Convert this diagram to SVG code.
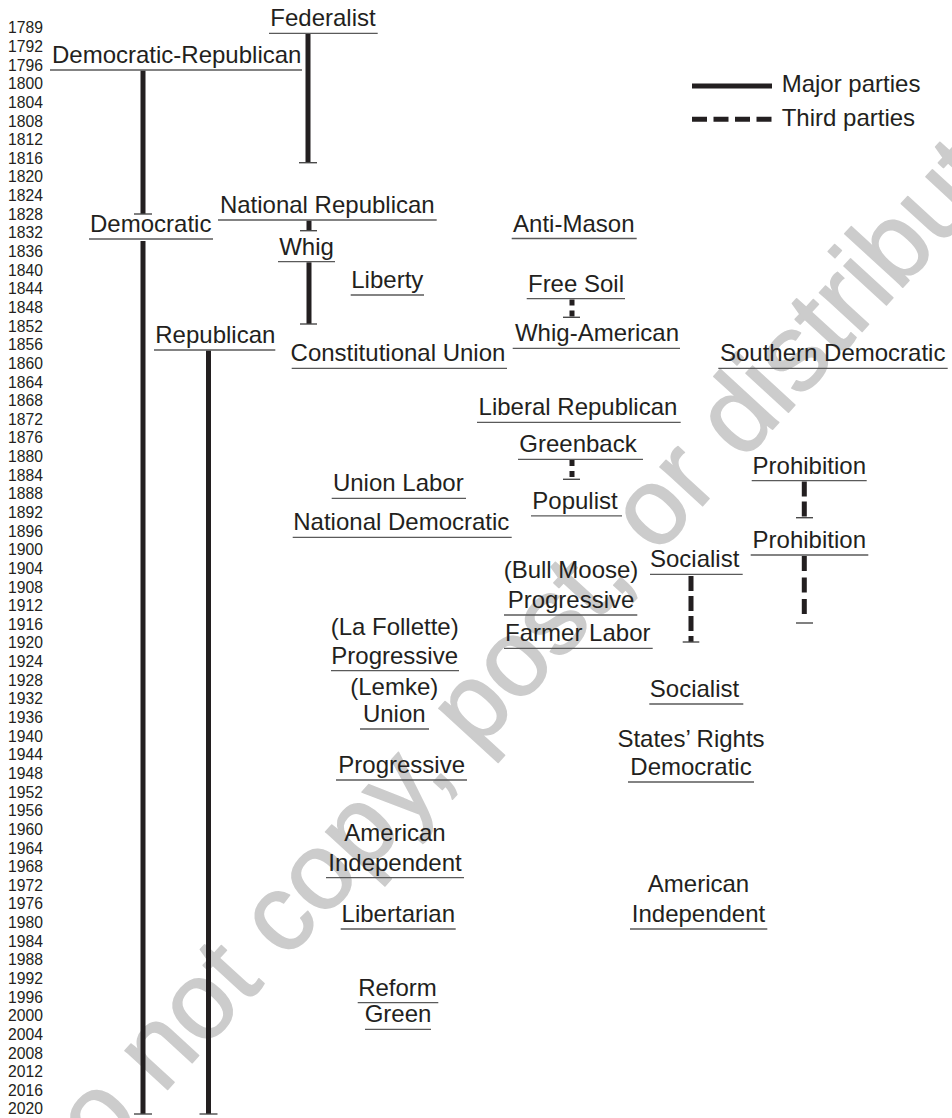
<svg xmlns="http://www.w3.org/2000/svg" width="952" height="1118" viewBox="0 0 952 1118">
<style>
text{font-family:"Liberation Sans",Arial,sans-serif;fill:#231f20}
.yr{font-size:15.7px}
.lb{font-size:24px;text-anchor:middle}
.lg{font-size:24px}
.ul{stroke:#5a5a5a;stroke-width:1.3}
.tk{stroke:#4a4a4a;stroke-width:1.4}
.maj{stroke:#231f20;stroke-width:5}
.thd{stroke:#231f20;stroke-width:5;stroke-dasharray:15 5}
.wm{font-size:109px;fill:#cccccc;stroke:#cccccc;stroke-width:1.5;stroke-linejoin:round}
</style>
<rect width="952" height="1118" fill="#fff"/>
<text class="wm" transform="translate(48,1220) rotate(-47.5)" x="0" y="0">Do not copy, post, or distribute</text>
<g id="years">
<text class="yr" x="8" y="33.3">1789</text>
<text class="yr" x="8" y="51.9">1792</text>
<text class="yr" x="8" y="70.6">1796</text>
<text class="yr" x="8" y="89.2">1800</text>
<text class="yr" x="8" y="107.9">1804</text>
<text class="yr" x="8" y="126.5">1808</text>
<text class="yr" x="8" y="145.1">1812</text>
<text class="yr" x="8" y="163.8">1816</text>
<text class="yr" x="8" y="182.4">1820</text>
<text class="yr" x="8" y="201.1">1824</text>
<text class="yr" x="8" y="219.7">1828</text>
<text class="yr" x="8" y="238.3">1832</text>
<text class="yr" x="8" y="257.0">1836</text>
<text class="yr" x="8" y="275.6">1840</text>
<text class="yr" x="8" y="294.3">1844</text>
<text class="yr" x="8" y="312.9">1848</text>
<text class="yr" x="8" y="331.5">1852</text>
<text class="yr" x="8" y="350.2">1856</text>
<text class="yr" x="8" y="368.8">1860</text>
<text class="yr" x="8" y="387.5">1864</text>
<text class="yr" x="8" y="406.1">1868</text>
<text class="yr" x="8" y="424.7">1872</text>
<text class="yr" x="8" y="443.4">1876</text>
<text class="yr" x="8" y="462.0">1880</text>
<text class="yr" x="8" y="480.7">1884</text>
<text class="yr" x="8" y="499.3">1888</text>
<text class="yr" x="8" y="517.9">1892</text>
<text class="yr" x="8" y="536.6">1896</text>
<text class="yr" x="8" y="555.2">1900</text>
<text class="yr" x="8" y="573.9">1904</text>
<text class="yr" x="8" y="592.5">1908</text>
<text class="yr" x="8" y="611.1">1912</text>
<text class="yr" x="8" y="629.8">1916</text>
<text class="yr" x="8" y="648.4">1920</text>
<text class="yr" x="8" y="667.1">1924</text>
<text class="yr" x="8" y="685.7">1928</text>
<text class="yr" x="8" y="704.3">1932</text>
<text class="yr" x="8" y="723.0">1936</text>
<text class="yr" x="8" y="741.6">1940</text>
<text class="yr" x="8" y="760.3">1944</text>
<text class="yr" x="8" y="778.9">1948</text>
<text class="yr" x="8" y="797.5">1952</text>
<text class="yr" x="8" y="816.2">1956</text>
<text class="yr" x="8" y="834.8">1960</text>
<text class="yr" x="8" y="853.5">1964</text>
<text class="yr" x="8" y="872.1">1968</text>
<text class="yr" x="8" y="890.7">1972</text>
<text class="yr" x="8" y="909.4">1976</text>
<text class="yr" x="8" y="928.0">1980</text>
<text class="yr" x="8" y="946.7">1984</text>
<text class="yr" x="8" y="965.3">1988</text>
<text class="yr" x="8" y="983.9">1992</text>
<text class="yr" x="8" y="1002.6">1996</text>
<text class="yr" x="8" y="1021.2">2000</text>
<text class="yr" x="8" y="1039.9">2004</text>
<text class="yr" x="8" y="1058.5">2008</text>
<text class="yr" x="8" y="1077.1">2012</text>
<text class="yr" x="8" y="1095.8">2016</text>
<text class="yr" x="8" y="1114.4">2020</text>
</g>
<g id="connectors">
<line class="maj" x1="308" y1="34" x2="308" y2="162.7"/><line class="tk" x1="299" y1="162.7" x2="317" y2="162.7"/>
<line class="maj" x1="143" y1="70.5" x2="143" y2="214"/><line class="tk" x1="134" y1="214" x2="152" y2="214"/>
<line class="maj" x1="143" y1="241" x2="143" y2="1114"/><line class="tk" x1="134" y1="1114" x2="152" y2="1114"/>
<line class="maj" x1="309" y1="220.5" x2="309" y2="230.7"/><line class="tk" x1="300" y1="230.7" x2="317" y2="230.7"/>
<line class="maj" x1="309" y1="262.3" x2="309" y2="324"/><line class="tk" x1="300" y1="324" x2="317" y2="324"/>
<line class="maj" x1="208.5" y1="350.5" x2="208.5" y2="1114"/><line class="tk" x1="199.5" y1="1114" x2="217.5" y2="1114"/>
<line class="thd" style="stroke-dasharray:6 5" x1="572" y1="299.5" x2="572" y2="317.3"/><line class="tk" x1="563" y1="317.3" x2="580" y2="317.3"/>
<line class="thd" style="stroke-dasharray:6 5" x1="572" y1="460" x2="572" y2="479.3"/><line class="tk" x1="563" y1="479.3" x2="580" y2="479.3"/>
<line class="thd" x1="804.3" y1="481.5" x2="804.3" y2="517.7"/><line class="tk" x1="796" y1="517.7" x2="813" y2="517.7"/>
<line class="thd" style="stroke-dasharray:15 6.5" x1="804.3" y1="556" x2="804.3" y2="614"/><line class="tk" x1="796" y1="623" x2="813" y2="623"/>
<line class="thd" x1="691" y1="576" x2="691" y2="642"/><line class="tk" x1="682.7" y1="642" x2="699.3" y2="642"/>
</g>
<g id="legend">
<line class="maj" x1="692" y1="86" x2="772" y2="86"/>
<text class="lg" x="781.7" y="92.3">Major parties</text>
<line class="thd" style="stroke-dasharray:15 6.5" x1="692" y1="119.3" x2="772" y2="119.3"/>
<text class="lg" x="781.7" y="125.5">Third parties</text>
</g>
<g id="federalist"><text class="lb" x="323" y="26.3">Federalist</text><line class="ul" x1="269" y1="33.3" x2="377.7" y2="33.3"/></g>
<g id="democratic-republican"><text class="lb" x="176.7" y="63">Democratic-Republican</text><line class="ul" x1="50" y1="70" x2="302" y2="70"/></g>
<g id="democratic"><text class="lb" x="150.7" y="232">Democratic</text><line class="ul" x1="89" y1="239" x2="213" y2="239"/></g>
<g id="national-republican"><text class="lb" x="327.3" y="213">National Republican</text><line class="ul" x1="218" y1="220" x2="436.7" y2="220"/></g>
<g id="whig"><text class="lb" x="306.5" y="254.7">Whig</text><line class="ul" x1="278" y1="261.7" x2="335" y2="261.7"/></g>
<g id="liberty"><text class="lb" x="387.3" y="288">Liberty</text><line class="ul" x1="350.7" y1="295" x2="424" y2="295"/></g>
<g id="anti-mason"><text class="lb" x="573.8" y="231.5">Anti-Mason</text><line class="ul" x1="511.7" y1="238.5" x2="636.7" y2="238.5"/></g>
<g id="free-soil"><text class="lb" x="576" y="291.7">Free Soil</text><line class="ul" x1="526.7" y1="298.7" x2="625" y2="298.7"/></g>
<g id="whig-american"><text class="lb" x="597" y="341.3">Whig-American</text><line class="ul" x1="512.7" y1="348.3" x2="680" y2="348.3"/></g>
<g id="constitutional-union"><text class="lb" x="398" y="361.3">Constitutional Union</text><line class="ul" x1="291.7" y1="368.3" x2="507" y2="368.3"/></g>
<g id="republican"><text class="lb" x="215.3" y="343">Republican</text><line class="ul" x1="154" y1="350" x2="275.3" y2="350"/></g>
<g id="southern-democratic"><text class="lb" x="832.7" y="361.3">Southern Democratic</text><line class="ul" x1="718.3" y1="368.3" x2="947.7" y2="368.3"/></g>
<g id="liberal-republican"><text class="lb" x="578" y="415.3">Liberal Republican</text><line class="ul" x1="477" y1="422.3" x2="680.7" y2="422.3"/></g>
<g id="greenback"><text class="lb" x="578" y="452.3">Greenback</text><line class="ul" x1="518" y1="459.3" x2="643" y2="459.3"/></g>
<g id="populist"><text class="lb" x="575" y="508.8">Populist</text><line class="ul" x1="531" y1="515.8" x2="622" y2="515.8"/></g>
<g id="union-labor"><text class="lb" x="398.3" y="491.3">Union Labor</text><line class="ul" x1="331.7" y1="498.3" x2="466" y2="498.3"/></g>
<g id="national-democratic"><text class="lb" x="401.3" y="530.3">National Democratic</text><line class="ul" x1="292.7" y1="537.3" x2="511.7" y2="537.3"/></g>
<g id="prohibition-1"><text class="lb" x="809.3" y="473.7">Prohibition</text><line class="ul" x1="751.7" y1="480.7" x2="866.7" y2="480.7"/></g>
<g id="prohibition-2"><text class="lb" x="809.3" y="548">Prohibition</text><line class="ul" x1="750.7" y1="555" x2="868.3" y2="555"/></g>
<g id="socialist-1"><text class="lb" x="694.7" y="567.3">Socialist</text><line class="ul" x1="650" y1="574.3" x2="742.7" y2="574.3"/></g>
<g id="bull-moose-progressive"><text class="lb" x="571" y="578">(Bull Moose)</text><text class="lb" x="571" y="608">Progressive</text><line class="ul" x1="504" y1="615" x2="637.3" y2="615"/></g>
<g id="farmer-labor"><text class="lb" x="577.8" y="641.3">Farmer Labor</text><line class="ul" x1="504" y1="648.3" x2="652.7" y2="648.3"/></g>
<g id="la-follette-progressive"><text class="lb" x="394.7" y="635">(La Follette)</text><text class="lb" x="394.7" y="663.7">Progressive</text><line class="ul" x1="331" y1="670.7" x2="459" y2="670.7"/></g>
<g id="lemke-union"><text class="lb" x="394.3" y="694.5">(Lemke)</text><text class="lb" x="394.3" y="722">Union</text><line class="ul" x1="360" y1="729" x2="429" y2="729"/></g>
<g id="progressive-1948"><text class="lb" x="401.7" y="773">Progressive</text><line class="ul" x1="336" y1="780" x2="467" y2="780"/></g>
<g id="socialist-2"><text class="lb" x="694.5" y="697">Socialist</text><line class="ul" x1="649.3" y1="704" x2="743.3" y2="704"/></g>
<g id="states-rights-democratic"><text class="lb" x="691" y="747">States’ Rights</text><text class="lb" x="691" y="775">Democratic</text><line class="ul" x1="628" y1="782" x2="754" y2="782"/></g>
<g id="american-independent-1"><text class="lb" x="395" y="841">American</text><text class="lb" x="395" y="870.7">Independent</text><line class="ul" x1="326" y1="877.7" x2="464" y2="877.7"/></g>
<g id="libertarian"><text class="lb" x="398.3" y="922">Libertarian</text><line class="ul" x1="340.7" y1="929" x2="455.7" y2="929"/></g>
<g id="reform"><text class="lb" x="397.5" y="995.7">Reform</text><line class="ul" x1="357.7" y1="1002.7" x2="438.3" y2="1002.7"/></g>
<g id="green"><text class="lb" x="398" y="1022.3">Green</text><line class="ul" x1="365" y1="1029.3" x2="431" y2="1029.3"/></g>
<g id="american-independent-2"><text class="lb" x="698.5" y="892">American</text><text class="lb" x="698.5" y="922">Independent</text><line class="ul" x1="630" y1="929" x2="767.3" y2="929"/></g>
</svg>
